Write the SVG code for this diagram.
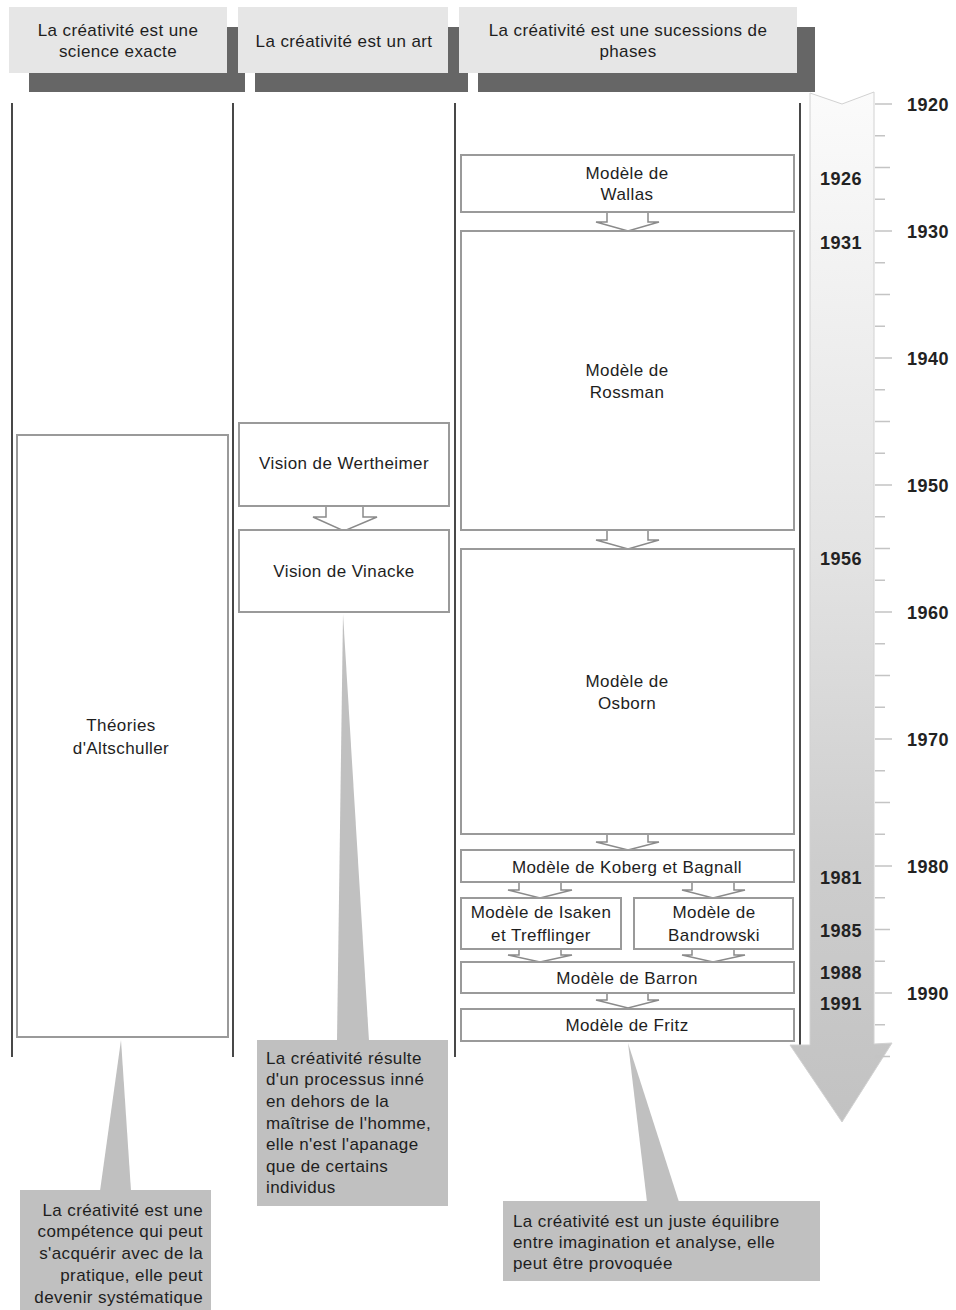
<svg xmlns="http://www.w3.org/2000/svg" width="956" height="1310" viewBox="0 0 956 1310">
<defs>
<linearGradient id="tl" gradientUnits="userSpaceOnUse" x1="0" y1="92" x2="0" y2="1122">
<stop offset="0" stop-color="#fbfbfb"/>
<stop offset="0.45" stop-color="#e3e3e3"/>
<stop offset="0.75" stop-color="#cdcdcd"/>
<stop offset="1" stop-color="#c2c2c2"/>
</linearGradient>
<style>
text{font-family:"Liberation Sans",Arial,sans-serif;font-size:17px;letter-spacing:0.4px;fill:#1e1e1e}
.c{text-anchor:middle}
.r{text-anchor:end}
.yr{font-weight:bold;font-size:18px;letter-spacing:0.5px;fill:#222}
.box{fill:#fff;stroke:#9a9a9a;stroke-width:2}
.arr{fill:#fff;stroke:#8a8a8a;stroke-width:1.5;stroke-linejoin:miter}
.hdr{fill:#e6e6e6}
.sh{fill:#666}
.col{stroke:#1a1a1a;stroke-width:1.6}
.call{fill:#c0c0c0}
</style>
</defs>
<rect width="956" height="1310" fill="#fff"/>

<g id="headers">
<g id="h1"><rect class="sh" x="29" y="27" width="216" height="65"/><rect class="hdr" x="9" y="7" width="218" height="66"/><text class="c" x="118" y="36">La créativité est une</text><text class="c" x="118" y="57">science exacte</text></g>
<g id="h2"><rect class="sh" x="255" y="27" width="213" height="65"/><rect class="hdr" x="238" y="7" width="210" height="66"/><text class="c" x="344" y="47">La créativité est un art</text></g>
<g id="h3"><rect class="sh" x="478" y="27" width="337" height="65"/><rect class="hdr" x="459" y="7" width="338" height="66"/><text class="c" x="628" y="36">La créativité est une sucessions de</text><text class="c" x="628" y="57">phases</text></g>
</g>

<g id="columns">
<line class="col" x1="12" y1="103" x2="12" y2="1057"/>
<line class="col" x1="233" y1="103" x2="233" y2="1057"/>
<line class="col" x1="455" y1="103" x2="455" y2="1057"/>
<line class="col" x1="800" y1="103" x2="800" y2="1057"/>
</g>

<g id="timeline">
<path d="M810,93 L842,104 L874,92 L874,1044 L892,1043 L842,1122 L790,1045 L810,1045 Z" fill="url(#tl)" stroke="#d2d2d2" stroke-width="1"/>
<path stroke="#c4c4c4" stroke-width="1.5" fill="none" d="M875,104H892M875,135.75H885M875,167.5H890M875,199.25H885M875,231H892M875,262.75H885M875,294.5H890M875,326.25H885M875,358H892M875,389.75H885M875,421.5H890M875,453.25H885M875,485H892M875,516.75H885M875,548.5H890M875,580.25H885M875,612H892M875,643.75H885M875,675.5H890M875,707.25H885M875,739H892M875,770.75H885M875,802.5H890M875,834.25H885M875,866H892M875,897.75H885M875,929.5H890M875,961.25H885M875,993H892M875,1024.75H885M875,1056.5H890"/>
<text class="yr" x="907" y="111">1920</text>
<text class="yr" x="907" y="238">1930</text>
<text class="yr" x="907" y="365">1940</text>
<text class="yr" x="907" y="492">1950</text>
<text class="yr" x="907" y="619">1960</text>
<text class="yr" x="907" y="746">1970</text>
<text class="yr" x="907" y="873">1980</text>
<text class="yr" x="907" y="1000">1990</text>
<text class="yr c" x="841" y="185">1926</text>
<text class="yr c" x="841" y="249">1931</text>
<text class="yr c" x="841" y="565">1956</text>
<text class="yr c" x="841" y="884">1981</text>
<text class="yr c" x="841" y="937">1985</text>
<text class="yr c" x="841" y="979">1988</text>
<text class="yr c" x="841" y="1010">1991</text>
</g>

<g id="connectors">
<path class="arr" d="M326,506 V517 H313 L344,531 L377,517 H363 V506"/>
<path class="arr" d="M607,212 V222 H596 L628,231 L659,222 H648 V212"/>
<path class="arr" d="M607,530 V540 H596 L628,549 L659,540 H648 V530"/>
<path class="arr" d="M607,834 V842 H596 L628,850 L659,842 H648 V834"/>
<path class="arr" d="M519,882 V890 H508 L540,898 L572,890 H561 V882"/>
<path class="arr" d="M692,882 V890 H682 L713,898 L745,890 H734 V882"/>
<path class="arr" d="M519,949 V955 H508 L540,962 L572,955 H561 V949"/>
<path class="arr" d="M692,949 V955 H682 L713,962 L745,955 H734 V949"/>
<path class="arr" d="M607,993 V1000 H596 L628,1008 L659,1000 H648 V993"/>
</g>

<g id="n-altschuller"><rect class="box" x="17" y="435" width="211" height="602"/><text class="c" x="121" y="731">Théories</text><text class="c" x="121" y="754">d'Altschuller</text></g>
<g id="n-wertheimer"><rect class="box" x="239" y="423" width="210" height="83"/><text class="c" x="344" y="469">Vision de Wertheimer</text></g>
<g id="n-vinacke"><rect class="box" x="239" y="530" width="210" height="82"/><text class="c" x="344" y="577">Vision de Vinacke</text></g>
<g id="n-wallas"><rect class="box" x="461" y="155" width="333" height="57"/><text class="c" x="627" y="179">Modèle de</text><text class="c" x="627" y="200">Wallas</text></g>
<g id="n-rossman"><rect class="box" x="461" y="231" width="333" height="299"/><text class="c" x="627" y="376">Modèle de</text><text class="c" x="627" y="398">Rossman</text></g>
<g id="n-osborn"><rect class="box" x="461" y="549" width="333" height="285"/><text class="c" x="627" y="687">Modèle de</text><text class="c" x="627" y="709">Osborn</text></g>
<g id="n-koberg"><rect class="box" x="461" y="850" width="333" height="32"/><text class="c" x="627" y="873">Modèle de Koberg et Bagnall</text></g>
<g id="n-isaken"><rect class="box" x="461" y="898" width="160" height="51"/><text class="c" x="541" y="918">Modèle de Isaken</text><text class="c" x="541" y="941">et Trefflinger</text></g>
<g id="n-bandrowski"><rect class="box" x="634" y="898" width="159" height="51"/><text class="c" x="714" y="918">Modèle de</text><text class="c" x="714" y="941">Bandrowski</text></g>
<g id="n-barron"><rect class="box" x="461" y="962" width="333" height="31"/><text class="c" x="627" y="984">Modèle de Barron</text></g>
<g id="n-fritz"><rect class="box" x="461" y="1009" width="333" height="32"/><text class="c" x="627" y="1031">Modèle de Fritz</text></g>

<g id="callout-left">
<path class="call" d="M100,1191 L121,1040 L131,1191 Z"/>
<rect class="call" x="20" y="1190" width="191" height="125"/>
<text class="r" x="203" y="1216">La créativité est une</text>
<text class="r" x="203" y="1237">compétence qui peut</text>
<text class="r" x="203" y="1259">s'acquérir avec de la</text>
<text class="r" x="203" y="1281">pratique, elle peut</text>
<text class="r" x="203" y="1303">devenir systématique</text>
</g>
<g id="callout-mid">
<path class="call" d="M343,614 L337,1041 L369,1041 Z"/>
<rect class="call" x="257" y="1040" width="191" height="166"/>
<text x="266" y="1064">La créativité résulte</text>
<text x="266" y="1085">d'un processus inné</text>
<text x="266" y="1107">en dehors de la</text>
<text x="266" y="1129">maîtrise de l'homme,</text>
<text x="266" y="1150">elle n'est l'apanage</text>
<text x="266" y="1172">que de certains</text>
<text x="266" y="1193">individus</text>
</g>
<g id="callout-right">
<path class="call" d="M628,1043 L647,1202 L679,1202 Z"/>
<rect class="call" x="503" y="1201" width="317" height="80"/>
<text x="513" y="1227">La créativité est un juste équilibre</text>
<text x="513" y="1248">entre imagination et analyse, elle</text>
<text x="513" y="1269">peut être provoquée</text>
</g>
</svg>
